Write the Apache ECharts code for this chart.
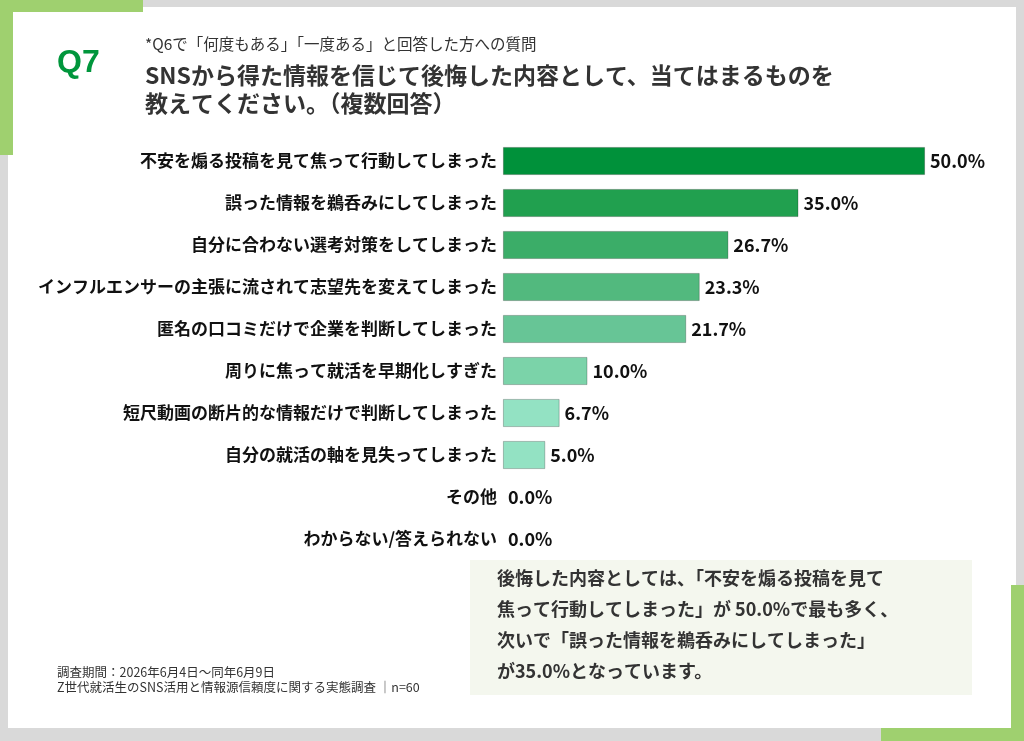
<!DOCTYPE html>
<html>
<head>
<meta charset="utf-8">
<title>Q7</title>
<script src="https://cdn.jsdelivr.net/npm/echarts@6/dist/echarts.min.js"></script>
<style>
  html, body { margin: 0; padding: 0; background: #fff; }
  #main { width: 1024px; height: 741px; }
</style>
</head>
<body>
<div id="main"></div>
<script>
// データ
var categories = [
  '不安を煽る投稿を見て焦って行動してしまった',
  '誤った情報を鵜呑みにしてしまった',
  '自分に合わない選考対策をしてしまった',
  'インフルエンサーの主張に流されて志望先を変えてしまった',
  '匿名の口コミだけで企業を判断してしまった',
  '周りに焦って就活を早期化しすぎた',
  '短尺動画の断片的な情報だけで判断してしまった',
  '自分の就活の軸を見失ってしまった',
  'その他',
  'わからない/答えられない'
];
var values = [50.0, 35.0, 26.7, 23.3, 21.7, 10.0, 6.7, 5.0, 0.0, 0.0];
var barColors = ['#00913a', '#21a04f', '#3bad68', '#52b97e', '#67c596', '#7bd3a9', '#93e2c3', '#93e2c3', '#93e2c3', '#93e2c3'];

var subTitle = '*Q6で「何度もある」「一度ある」と回答した方への質問';
var titleLines = ['SNSから得た情報を信じて後悔した内容として、当てはまるものを', '教えてください。（複数回答）'];
var noteLines = ['調査期間：2026年6月4日～同年6月9日', 'Z世代就活生のSNS活用と情報源信頼度に関する実態調査 ｜n=60'];
var summaryLines = [
  '後悔した内容としては、「不安を煽る投稿を見て',
  '焦って行動してしまった」が 50.0%で最も多く、',
  '次いで「誤った情報を鵜呑みにしてしまった」',
  'が35.0%となっています。'
];

var FONT = '"Noto Sans CJK JP", "Noto Sans", sans-serif';
var chart = echarts.init(document.getElementById('main'));

var graphics = [
  // 外枠
  { type: 'rect', z: -10, shape: { x: 0, y: 0, width: 1024, height: 741 }, style: { fill: '#d9d9d9' } },
  { type: 'rect', z: -9, shape: { x: 8, y: 7, width: 1008, height: 721 }, style: { fill: '#ffffff' } },
  // 緑のアクセント
  { type: 'rect', z: -8, shape: { x: 0, y: 0, width: 143, height: 12 }, style: { fill: '#9fd06f' } },
  { type: 'rect', z: -8, shape: { x: 0, y: 0, width: 13, height: 155 }, style: { fill: '#9fd06f' } },
  { type: 'rect', z: -8, shape: { x: 1011, y: 585, width: 13, height: 156 }, style: { fill: '#9fd06f' } },
  { type: 'rect', z: -8, shape: { x: 881, y: 728, width: 143, height: 13 }, style: { fill: '#9fd06f' } },
  // まとめボックス
  { type: 'rect', z: -7, shape: { x: 470, y: 560, width: 502, height: 135 }, style: { fill: '#f4f7ee' } },
  // Q7
  { type: 'text', x: 57, y: 63, style: { text: 'Q7', fill: '#00963c', font: 'bold 32px "Liberation Sans", Arial, sans-serif', textVerticalAlign: 'middle' } },
  { type: 'text', x: 145, y: 44, style: { text: subTitle, fill: '#333', font: '15.5px ' + FONT, textVerticalAlign: 'middle' } }
];
titleLines.forEach(function (t, i) {
  graphics.push({ type: 'text', x: 145, y: 75 + i * 28, style: { text: t, fill: '#333', font: 'bold 23px ' + FONT, textVerticalAlign: 'middle' } });
});
noteLines.forEach(function (t, i) {
  graphics.push({ type: 'text', x: 57, y: 672 + i * 15, style: { text: t, fill: '#333', font: '12.5px ' + FONT, textVerticalAlign: 'middle' } });
});
summaryLines.forEach(function (t, i) {
  graphics.push({ type: 'text', x: 497, y: 578 + i * 31, style: { text: t, fill: '#333', font: 'bold 18px ' + FONT, textVerticalAlign: 'middle' } });
});

var option = {
  animation: false,
  graphic: graphics,
  grid: {
    left: 503,
    right: 99,
    top: 140,
    bottom: 181,
    outerBoundsMode: 'none'
  },
  xAxis: {
    type: 'value',
    min: 0,
    max: 50,
    show: false
  },
  yAxis: {
    type: 'category',
    inverse: true,
    data: categories,
    axisLine: { show: false },
    axisTick: { show: false },
    axisLabel: {
      margin: 6,
      color: '#111',
      fontWeight: 'bold',
      fontSize: 17,
      fontFamily: FONT
    }
  },
  series: [{
    type: 'bar',
    barWidth: 28,
    data: values.map(function (v, i) {
      return {
        value: v,
        itemStyle: {
          color: barColors[i],
          borderColor: v > 0 ? 'rgba(0,0,0,0.3)' : 'transparent',
          borderWidth: v > 0 ? 0.8 : 0
        }
      };
    }),
    label: {
      show: true,
      position: 'right',
      distance: 5,
      color: '#111',
      fontWeight: 'bold',
      fontSize: 18,
      fontFamily: FONT,
      formatter: function (p) { return p.value.toFixed(1) + '%'; }
    }
  }]
};

chart.setOption(option);
</script>
</body>
</html>
